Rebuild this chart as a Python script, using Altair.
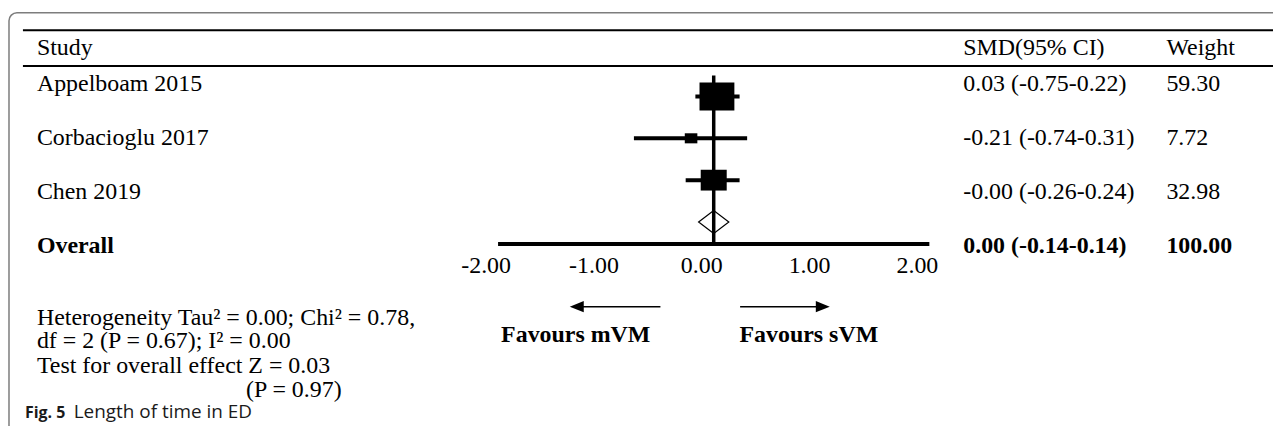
import altair as alt
import pandas as pd

# ---------------- data ----------------
studies = ["Appelboam 2015", "Corbacioglu 2017", "Chen 2019"]
smd = [0.03, -0.21, -0.00]
ci_low = [-0.17, -0.74, -0.26]
ci_high = [0.24, 0.31, 0.24]
smd_text = ["0.03 (-0.75-0.22)", "-0.21 (-0.74-0.31)", "-0.00 (-0.26-0.24)"]
weights = [59.30, 7.72, 32.98]
weight_text = ["59.30", "7.72", "32.98"]

overall_label = "Overall"
overall_est = 0.00
overall_low = -0.14
overall_high = 0.14
overall_smd_text = "0.00 (-0.14-0.14)"
overall_weight_text = "100.00"

tick_values = [-2, -1, 0, 1, 2]
tick_labels = ["-2.00", "-1.00", "0.00", "1.00", "2.00"]

header = ["Study", "SMD(95% CI)", "Weight"]
favours = ["Favours mVM", "Favours sVM"]
notes = [
    "Heterogeneity Tau\u00b2 = 0.00; Chi\u00b2 = 0.78,",
    "df = 2 (P = 0.67); I\u00b2 = 0.00",
    "Test for overall effect Z = 0.03",
    "(P = 0.97)",
]
caption_bold = "Fig. 5"
caption_text = "Length of time in ED"

# ---------------- tables ----------------
n = len(studies)
study_df = pd.DataFrame({
    "study": studies, "smd": smd, "lo": ci_low, "hi": ci_high,
    "smd_text": smd_text, "weight": weights, "weight_text": weight_text,
    "fy": list(range(n)), "row": list(range(1, n + 1)),
})
overall_df = pd.DataFrame({
    "study": [overall_label], "smd_text": [overall_smd_text],
    "weight_text": [overall_weight_text], "row": [n + 1],
})
DIAMOND_H = 0.274  # half-height of the summary diamond in row units (style)
diamond_df = pd.DataFrame({
    "x": [overall_low, overall_est, overall_high],
    "y": [n, n - DIAMOND_H, n],
    "y2": [n, n + DIAMOND_H, n],
})
ticks_df = pd.DataFrame({"v": tick_values, "lab": tick_labels})
one = pd.DataFrame({"a": [0]})

SERIF = "Liberation Serif"
FS = 24

xscale = alt.Scale(domain=[-2, 2], range=[492, 925])
fyscale = alt.Scale(domain=[0, n], range=[88, 214])
rowscale = alt.Scale(domain=[1, n + 1], range=[82, 245])

layers = []

# frame
layers.append(alt.Chart(one).mark_rect(fill="transparent", stroke="#7d7d7d", strokeWidth=1.5,
                                       cornerRadius=8).encode(
    x=alt.value(1), x2=alt.value(1500), y=alt.value(4), y2=alt.value(700)))

# header rules
for yy in [21.5, 57.5]:
    layers.append(alt.Chart(one).mark_rule(color="black", strokeWidth=2).encode(
        x=alt.value(15), x2=alt.value(1272), y=alt.value(yy)))

# header text
for txt, xx in zip(header, [29, 959, 1163]):
    layers.append(alt.Chart(one).mark_text(text=txt, font=SERIF, fontSize=FS, align="left",
                                           baseline="alphabetic", color="black").encode(
        x=alt.value(xx), y=alt.value(46)))

# study rows text
for field, xx in [("study", 29), ("smd_text", 959), ("weight_text", 1163)]:
    layers.append(alt.Chart(study_df).mark_text(font=SERIF, fontSize=FS, align="left",
                                                baseline="alphabetic", color="black").encode(
        x=alt.value(xx), y=alt.Y("row:Q", scale=rowscale, axis=None), text=f"{field}:N"))
    layers.append(alt.Chart(overall_df).mark_text(font=SERIF, fontSize=FS, align="left",
                                                  baseline="alphabetic", fontWeight="bold",
                                                  color="black").encode(
        x=alt.value(xx), y=alt.Y("row:Q", scale=rowscale, axis=None), text=f"{field}:N"))

# CI lines
layers.append(alt.Chart(study_df).mark_rule(color="black", strokeWidth=4).encode(
    x=alt.X("lo:Q", scale=xscale, axis=None), x2="hi:Q",
    y=alt.Y("fy:Q", scale=fyscale, axis=None)))

# weighted boxes (area proportional to weight)
layers.append(alt.Chart(study_df).mark_point(
    shape="M-1,-0.8L1,-0.8L1,0.8L-1,0.8Z", filled=True, color="black", opacity=1,
    strokeWidth=0).encode(
    x=alt.X("smd:Q", scale=xscale, axis=None),
    y=alt.Y("fy:Q", scale=fyscale, axis=None),
    size=alt.Size("weight:Q", scale=alt.Scale(domain=[0, max(weights)], range=[0, 1225]),
                  legend=None)))

# summary diamond
layers.append(alt.Chart(diamond_df).mark_area(fill="white", stroke="black", strokeWidth=1.2,
                                              opacity=1).encode(
    x=alt.X("x:Q", scale=xscale, axis=None),
    y=alt.Y("y:Q", scale=fyscale, axis=None), y2="y2:Q"))

# zero line
layers.append(alt.Chart(pd.DataFrame({"x": [0]})).mark_rule(color="black", strokeWidth=3.5).encode(
    x=alt.X("x:Q", scale=xscale, axis=None), y=alt.value(67), y2=alt.value(236)))

# axis line
layers.append(alt.Chart(pd.DataFrame({"x": [tick_values[0]], "x2": [tick_values[-1]]})).mark_rule(
    color="black", strokeWidth=4).encode(
    x=alt.X("x:Q", scale=xscale, axis=None), x2="x2:Q", y=alt.value(236)))

# tick labels
layers.append(alt.Chart(ticks_df).mark_text(font=SERIF, fontSize=FS, baseline="alphabetic",
                                            align="center", dx=-12, color="black").encode(
    x=alt.X("v:Q", scale=xscale, axis=None), y=alt.value(265), text="lab:N"))

# arrows
layers.append(alt.Chart(one).mark_rule(color="black", strokeWidth=1.5).encode(
    x=alt.value(570), x2=alt.value(655), y=alt.value(299)))
layers.append(alt.Chart(one).mark_rule(color="black", strokeWidth=1.5).encode(
    x=alt.value(735), x2=alt.value(819), y=alt.value(299)))
layers.append(alt.Chart(one).mark_point(shape="M-1,0L1,-0.8L1,0.8Z", filled=True, color="black",
                                        opacity=1, strokeWidth=0).encode(
    x=alt.value(571), y=alt.value(299), size=alt.value(196)))
layers.append(alt.Chart(one).mark_point(shape="M1,0L-1,-0.8L-1,0.8Z", filled=True, color="black",
                                        opacity=1, strokeWidth=0).encode(
    x=alt.value(818), y=alt.value(299), size=alt.value(196)))
for txt, xx in zip(favours, [570, 804]):
    layers.append(alt.Chart(one).mark_text(text=txt, font=SERIF, fontSize=FS, fontWeight="bold",
                                           align="center", baseline="alphabetic",
                                           color="black").encode(
        x=alt.value(xx), y=alt.value(334)))

# heterogeneity notes
for txt, xx, yy in zip(notes, [29, 29, 29, 239], [317, 341, 366, 390]):
    layers.append(alt.Chart(one).mark_text(text=txt, font=SERIF, fontSize=FS, align="left",
                                           baseline="alphabetic", color="black").encode(
        x=alt.value(xx), y=alt.value(yy)))

# caption
layers.append(alt.Chart(one).mark_text(text=caption_bold, font="Open Sans", fontSize=16,
                                       fontWeight="bold", align="left", baseline="alphabetic",
                                       color="#1a1a1a").encode(x=alt.value(17), y=alt.value(411)))
layers.append(alt.Chart(one).mark_text(text=caption_text, font="Open Sans", fontSize=19,
                                       align="left", baseline="alphabetic",
                                       color="#1a1a1a").encode(x=alt.value(66), y=alt.value(411)))

chart = alt.layer(*layers).resolve_scale(y="independent").properties(
    width=1270, height=418, padding=0, autosize="none"
).configure_view(stroke=None)

chart.save("out.html", embed_options={"renderer": "svg", "actions": False})
